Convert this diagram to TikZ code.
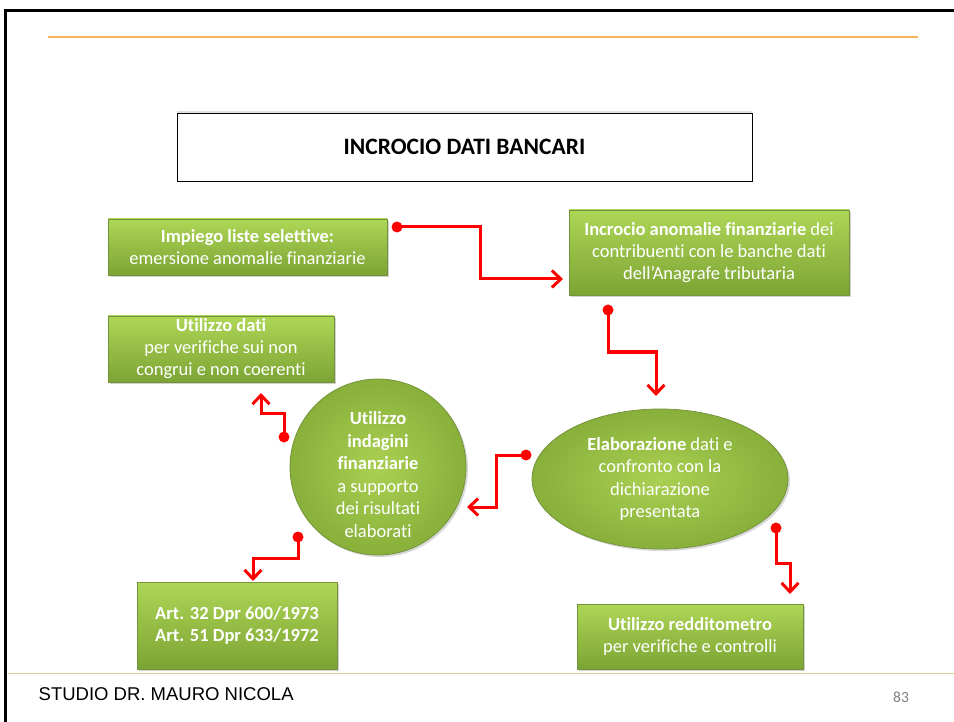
\documentclass[tikz,border=0pt]{standalone}
\usepackage{fontspec}
\setmainfont{Carlito}[Ligatures={NoCommon}]
\newfontfamily\footfont{Liberation Sans}
\usetikzlibrary{arrows.meta,shadows,shapes.geometric}

\definecolor{boxtop}{RGB}{174,214,86}
\definecolor{boxbot}{RGB}{124,164,52}
\definecolor{boxline}{RGB}{116,146,58}
\definecolor{balltop}{RGB}{170,208,82}
\definecolor{ballbot}{RGB}{136,176,58}
\definecolor{linkred}{RGB}{255,0,0}
\definecolor{rulegold}{RGB}{246,180,92}
\definecolor{footrule}{RGB}{222,204,150}

\tikzset{
  every picture/.style={line width=0.75pt},
  greenbox/.style={rectangle, draw=boxline, top color=boxtop, bottom color=boxbot,
    text=white, align=center, inner sep=2pt,
    font=\fontsize{18.5}{22}\selectfont,
    drop shadow={shadow xshift=2pt, shadow yshift=-2pt, opacity=0.35}},
  greenball/.style={draw=boxline, inner color=balltop, outer color=ballbot,
    text=white, align=center, inner sep=0pt,
    font=\fontsize{18.5}{22.5}\selectfont,
    drop shadow={shadow xshift=2pt, shadow yshift=-2pt, opacity=0.3}},
  link/.style={draw=linkred, line width=3pt, -{Straight Barb[length=9pt,width=17pt]}},
  linkdot/.style={fill=linkred}
}

\begin{document}
\begin{tikzpicture}[x=1pt,y=1pt,yscale=-1,xscale=1]
    \useasboundingbox (0,0) rectangle (954,722);
    \fill[white] (0,0) rectangle (954,722);

    %Frame and rules
    \draw[line width=3pt] (954,11) -- (5,11) -- (5,722);
    \draw[rulegold, line width=2.2pt] (48,37) -- (918,37);
    \draw[footrule, line width=1pt] (8,673) -- (954,673);

    %Title box
    \node[draw=black, fill=white, minimum width=575pt, minimum height=68pt,
      font=\fontsize{23.5}{26}\selectfont\bfseries,
      drop shadow={shadow xshift=0pt, shadow yshift=2pt, opacity=0.25}]
      (titolo) at (464.5,147) {INCROCIO DATI BANCARI};

    %Boxes
    \node[greenbox, minimum width=279pt, minimum height=56pt] (impiego) at (247.5,247)
      {\textbf{Impiego liste selettive:}\\emersione anomalie finanziarie};
    \node[greenbox, minimum width=280pt, minimum height=85pt] (incrocio) at (709,252.5)
      {\textbf{Incrocio anomalie finanziarie} dei\\contribuenti con le banche dati\\dell’Anagrafe tributaria};
    \node[greenbox, minimum width=226pt, minimum height=66pt] (utilizzo) at (221,349)
      {\textbf{Utilizzo dati}\\per verifiche sui non\\congrui e non coerenti};
    \node[greenbox, minimum width=200pt, minimum height=87pt] (articoli) at (237,625.5)
      {\textbf{Art. 32 Dpr 600/1973}\\\textbf{Art. 51 Dpr 633/1972}};
    \node[greenbox, minimum width=226pt, minimum height=65pt] (redditometro) at (690,636.5)
      {\textbf{Utilizzo redditometro}\\per verifiche e controlli};

    %Circle and ellipse
    \node[greenball, circle, minimum size=176pt] (indagini) at (378,467)
      {\rule{0pt}{28pt}\textbf{Utilizzo}\\\textbf{indagini}\\\textbf{finanziarie}\\a supporto\\dei risultati\\elaborati};
    \node[greenball, ellipse, minimum width=256pt, minimum height=140pt] (elaborazione) at (660,479)
      {\textbf{Elaborazione} dati e\\confronto con la\\dichiarazione\\presentata};

    %Connector ends
    \coordinate (s1) at (397,227);  \coordinate (e1) at (563,279);
    \coordinate (s2) at (608,310);  \coordinate (e2) at (656,396);
    \coordinate (s3) at (526,455);  \coordinate (e3) at (467,507);
    \coordinate (s4) at (284,437);  \coordinate (e4) at (261,393);
    \coordinate (s5) at (298,537);  \coordinate (e5) at (253,581);
    \coordinate (s6) at (776,528);  \coordinate (e6) at (790,594);

    %Connectors
    \draw[link] (s1) -- ++(83,0) |- (e1);
    \draw[link] (s2) -- ++(0,42) -| (e2);
    \draw[link] (s3) -- ++(-30,0) |- (e3);
    \draw[link] (s4) -- ++(0,-24) -| (e4);
    \draw[link] (s5) -- ++(0,21) -| (e5);
    \draw[link] (s6) -- ++(0,35) -| (e6);
    \foreach \p in {s1,s2,s3,s4,s5,s6}
      \fill[linkdot] (\p) circle (5.5);

    % Text Node
    \node[anchor=west, font=\footfont\fontsize{18.5}{20}\selectfont] (studio) at (35,694) {STUDIO DR. MAURO NICOLA};
    % Text Node
    \node[text=gray, font=\fontsize{15.5}{17}\selectfont] (pagina) at (901,697) {83};

\end{tikzpicture}
\end{document}
